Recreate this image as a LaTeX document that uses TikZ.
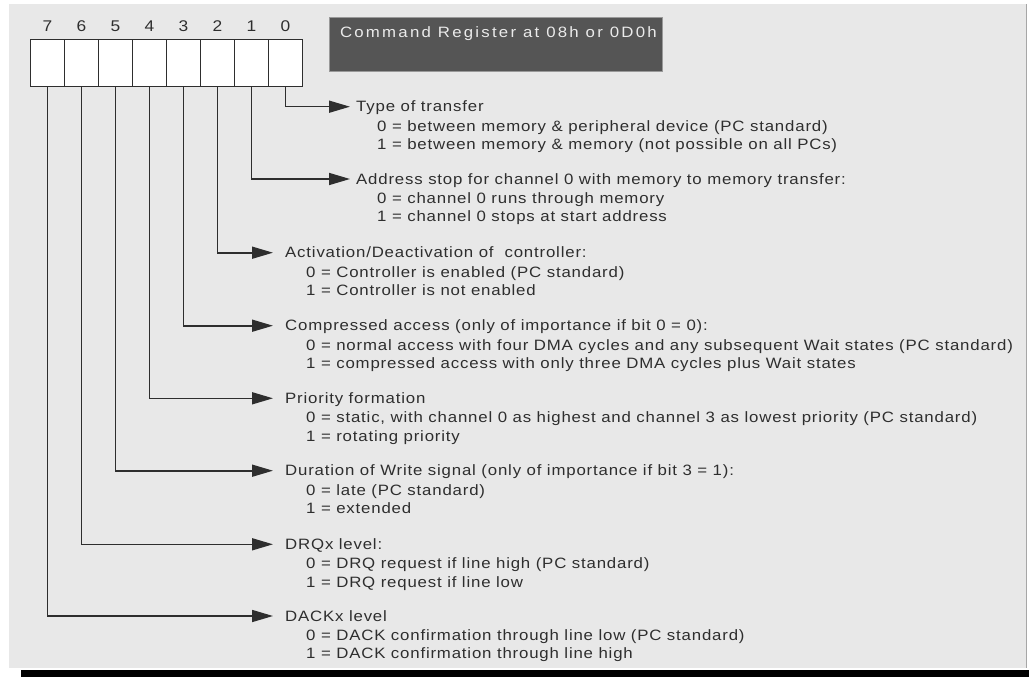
\documentclass[tikz,border=0pt]{standalone}
\usepackage{fontspec}
\setmainfont{Liberation Sans}[FakeStretch=1.12,LetterSpace=5.5]
\newfontfamily\titlefont{Liberation Sans}[FakeStretch=1.12,LetterSpace=15]
\usetikzlibrary{arrows.meta,positioning}
\definecolor{panelgray}{HTML}{E8E8E8}
\definecolor{regdark}{HTML}{555555}
\definecolor{inkgray}{HTML}{2E2E2E}

\begin{document}
\begin{tikzpicture}[x=1pt, y=-1pt,
  cell/.style={draw=inkgray, line width=1.6pt, fill=white, minimum width=34pt, minimum height=47pt, inner sep=0pt},
  bitnum/.style={font=\fontsize{15.5}{18}\selectfont, text=inkgray, inner sep=0pt},
  regbox/.style={draw=gray!80, fill=regdark, minimum width=333pt, minimum height=54pt, inner sep=0pt},
  regtitle/.style={anchor=west, inner sep=0pt, text height=10.5pt, text depth=0pt, text=white!92!black, font=\titlefont\fontsize{15}{18}\selectfont},
  heading/.style={anchor=west, inner xsep=6pt, inner ysep=0pt, text height=10.5pt, text depth=0pt, text=inkgray, font=\fontsize{15}{18.4}\selectfont},
  detail/.style={align=left, inner sep=0pt, text=inkgray, font=\fontsize{15}{18.4}\selectfont},
  arrow/.style={-{Triangle[length=21pt,width=12pt]}, line width=1.6pt, draw=inkgray},
  gap/.style={shorten >=6pt},
]
  \useasboundingbox (0,0) rectangle (1029,677);

  % Background panel
  \fill[panelgray] (9,4) rectangle (1026,668);
  \draw[gray!70, line width=1.5pt] (1026.5,4) -- (1026.5,668);
  \fill[black] (21,670) rectangle (1029,677);

  % Register bits
  \foreach \i in {0,...,7} {
    \node[cell] (b\i) at ({285.5-34*\i},63) {};
    \node[bitnum, above=6.5pt of b\i] (n\i) {\i};
  }

  % Title box
  \node[regbox] (reg) at (495.5,44) {};
  \node[regtitle] (title) at ([xshift=11pt, yshift=-15.7pt]reg.north west) {Command Register at 08h or 0D0h};

  % Bit descriptions
  \node[heading] (h0) at (350,106.7) {Type of transfer};
  \node[detail, below right=8pt and 27pt of h0.south west] (d0) {0 = between memory \& peripheral device (PC standard)\\1 = between memory \& memory (not possible on all PCs)};

  \node[heading] (h1) at (350,179) {Address stop for channel 0 with memory to memory transfer:};
  \node[detail, below right=8pt and 27pt of h1.south west] (d1) {0 = channel 0 runs through memory\\1 = channel 0 stops at start address};

  \node[heading] (h2) at (279,252.7) {Activation/Deactivation of \ controller:};
  \node[detail, below right=8pt and 27pt of h2.south west] (d2) {0 = Controller is enabled (PC standard)\\1 = Controller is not enabled};

  \node[heading] (h3) at (279,325.7) {Compressed access (only of importance if bit 0 = 0):};
  \node[detail, below right=8pt and 27pt of h3.south west] (d3) {0 = normal access with four DMA cycles and any subsequent Wait states (PC standard)\\1 = compressed access with only three DMA cycles plus Wait states};

  \node[heading] (h4) at (279,398.3) {Priority formation};
  \node[detail, below right=8pt and 27pt of h4.south west] (d4) {0 = static, with channel 0 as highest and channel 3 as lowest priority (PC standard)\\1 = rotating priority};

  \node[heading] (h5) at (279,470.7) {Duration of Write signal (only of importance if bit 3 = 1):};
  \node[detail, below right=8pt and 27pt of h5.south west] (d5) {0 = late (PC standard)\\1 = extended};

  \node[heading] (h6) at (279,544.3) {DRQx level:};
  \node[detail, below right=8pt and 27pt of h6.south west] (d6) {0 = DRQ request if line high (PC standard)\\1 = DRQ request if line low};

  \node[heading] (h7) at (279,616) {DACKx level};
  \node[detail, below right=8pt and 27pt of h7.south west] (d7) {0 = DACK confirmation through line low (PC standard)\\1 = DACK confirmation through line high};

  % Connectors
  \draw[arrow] (b0.south) |- (h0.west);
  \draw[arrow] (b1.south) |- (h1.west);
  \draw[arrow, gap] (b2.south) |- (h2.west);
  \draw[arrow, gap] (b3.south) |- (h3.west);
  \draw[arrow, gap] (b4.south) |- (h4.west);
  \draw[arrow, gap] (b5.south) |- (h5.west);
  \draw[arrow, gap] (b6.south) |- (h6.west);
  \draw[arrow, gap] (b7.south) |- (h7.west);
\end{tikzpicture}
\end{document}
